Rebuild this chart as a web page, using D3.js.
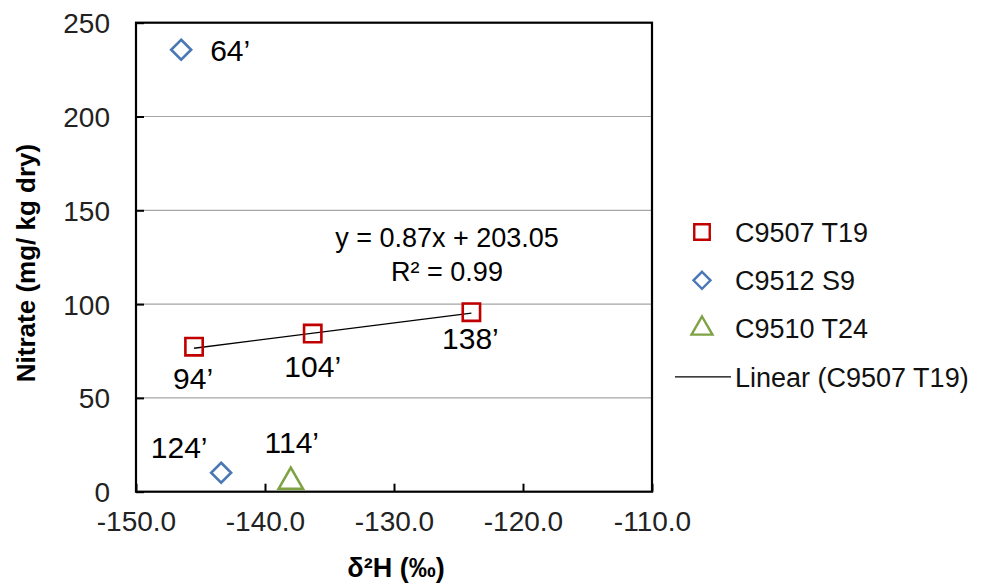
<!DOCTYPE html>
<html>
<head>
<meta charset="utf-8">
<script src="https://cdn.jsdelivr.net/npm/d3@7"></script>
<style>
  body { margin: 0; background: #fff; }
  svg text { font-family: "Liberation Sans", Arial, sans-serif; fill: #000; }
</style>
</head>
<body>
<div id="chart"></div>
<script>
// data
var t19X = [-145.5, -136.3, -124.0];
var t19Y = [77.3, 84.3, 95.7];
var t19Labels = ["94\u2019", "104\u2019", "138\u2019"];

var s9X = [-146.5, -143.4];
var s9Y = [235.6, 10.1];
var s9Labels = ["64\u2019", "124\u2019"];

var t24X = [-138.0];
var t24Y = [5.3];
var t24Labels = ["114\u2019"];

var xTicks = [-150, -140, -130, -120, -110];
var yTicks = [0, 50, 100, 150, 200, 250];

var seriesNames = ["C9507 T19", "C9512 S9", "C9510 T24", "Linear (C9507 T19)"];
var trendSlope = 0.87, trendIntercept = 203.05;

var red = '#c00000', blue = '#4a78b4', green = '#7fa244';

var svg = d3.select('#chart')
    .append('svg')
        .attr('width', 987)
        .attr('height', 584);

var x = d3.scaleLinear().domain([-150, -110]).range([136, 652]);
var y = d3.scaleLinear().domain([0, 250]).range([491.7, 22.7]);

// gridlines
svg.selectAll('.grid')
    .data(yTicks.slice(1, -1))
    .enter()
    .append('line')
    .attr('x1', x(-150)).attr('x2', x(-110))
    .attr('y1', d => y(d)).attr('y2', d => y(d))
    .style('stroke', '#a6a6a6')
    .style('stroke-width', 1.2);

// axes with inward ticks
var xAxis = svg.append('g')
    .attr('transform', 'translate(0,' + y(0) + ')')
    .call(d3.axisBottom(x).tickValues(xTicks).tickSizeInner(-8).tickSizeOuter(0).tickPadding(19));

var yAxis = svg.append('g')
    .attr('transform', 'translate(' + x(-150) + ',0)')
    .call(d3.axisLeft(y).tickValues(yTicks).tickSizeInner(-8).tickSizeOuter(0).tickPadding(26));

[xAxis, yAxis].forEach(g => {
    g.select('.domain').remove();
    g.selectAll('line').style('stroke', '#000').style('stroke-width', 2);
    g.selectAll('text')
        .style('font-size', '28px')
        .style('fill', '#222')
        .attr('font-family', null);
});
xAxis.selectAll('text').text(d => d3.format('.1f')(d).replace('\u2212', '-'));
yAxis.selectAll('text').attr('dy', '0.36em');

// plot frame
svg.append('rect')
    .attr('x', x(-150)).attr('y', y(250))
    .attr('width', x(-110) - x(-150))
    .attr('height', y(0) - y(250))
    .style('fill', 'none')
    .style('stroke', '#000')
    .style('stroke-width', 2.2);

// axis titles
svg.append('text')
    .attr('transform', 'translate(35,263) rotate(-90)')
    .attr('text-anchor', 'middle')
    .style('font-size', '26px')
    .style('font-weight', 'bold')
    .text('Nitrate (mg/ kg dry)');

svg.append('text')
    .attr('x', 396).attr('y', 577)
    .attr('text-anchor', 'middle')
    .style('font-size', '27px')
    .style('font-weight', 'bold')
    .text('\u03b4\u00b2H (\u2030)');

// trendline
var tx = d3.extent(t19X);
svg.append('line')
    .attr('x1', x(tx[0])).attr('y1', y(trendSlope * tx[0] + trendIntercept))
    .attr('x2', x(tx[1])).attr('y2', y(trendSlope * tx[1] + trendIntercept))
    .style('stroke', '#000')
    .style('stroke-width', 1.3);

var eq = svg.append('text')
    .attr('text-anchor', 'middle')
    .style('font-size', '27px');
eq.append('tspan').attr('x', 447).attr('y', 247).text('y = 0.87x + 203.05');
eq.append('tspan').attr('x', 447).attr('y', 281).text('R\u00b2 = 0.99');

// markers
var symSquare = d3.symbol().type(d3.symbolSquare).size(300);
var symDiamond = 'M0,-10L10,0L0,10L-10,0Z';
var symTri = d3.symbol().type(d3.symbolTriangle).size(260);

function drawSeries(xs, ys, shape, color) {
    svg.selectAll(null)
        .data(xs)
        .enter()
        .append('path')
        .attr('d', shape)
        .attr('transform', (d, i) => 'translate(' + x(d) + ',' + y(ys[i]) + ')')
        .style('fill', 'none')
        .style('stroke', color)
        .style('stroke-width', 2.6);
}
drawSeries(t19X, t19Y, symSquare, red);
drawSeries(s9X, s9Y, symDiamond, blue);
drawSeries(t24X, t24Y, symTri, green);

// point labels (offsets as in the picture)
var labelOffsets = {
    "94\u2019": [-1, 42, 'middle'],
    "104\u2019": [0, 43, 'middle'],
    "138\u2019": [-1, 37, 'middle'],
    "64\u2019": [29, 11, 'start'],
    "124\u2019": [-42, -15, 'middle'],
    "114\u2019": [1, -29, 'middle']
};
function drawLabels(xs, ys, labels) {
    svg.selectAll(null)
        .data(labels)
        .enter()
        .append('text')
        .attr('x', (d, i) => x(xs[i]) + labelOffsets[d][0])
        .attr('y', (d, i) => y(ys[i]) + labelOffsets[d][1])
        .attr('text-anchor', d => labelOffsets[d][2])
        .style('font-size', '30px')
        .text(d => d);
}
drawLabels(t19X, t19Y, t19Labels);
drawLabels(s9X, s9Y, s9Labels);
drawLabels(t24X, t24Y, t24Labels);

// legend
var legend = svg.append('g').attr('transform', 'translate(702,232)');
var legendColors = [red, blue, green];
var legendShapes = [
    d3.symbol().type(d3.symbolSquare).size(240)(),
    'M0,-8.5L8.5,0L0,8.5L-8.5,0Z',
    d3.symbol().type(d3.symbolTriangle).size(190)()
];
seriesNames.forEach((name, i) => {
    var g = legend.append('g').attr('transform', 'translate(0,' + (i * 48.3) + ')');
    if (i < 3) {
        g.append('path')
            .attr('d', legendShapes[i])
            .style('fill', 'none')
            .style('stroke', legendColors[i])
            .style('stroke-width', 2.4);
    } else {
        g.append('line')
            .attr('x1', -27).attr('x2', 29)
            .style('stroke', '#000')
            .style('stroke-width', 1.3);
    }
    g.append('text')
        .attr('x', 33)
        .attr('dy', '0.36em')
        .style('font-size', '27px')
        .style('fill', '#111')
        .text(name);
});
</script>
</body>
</html>
